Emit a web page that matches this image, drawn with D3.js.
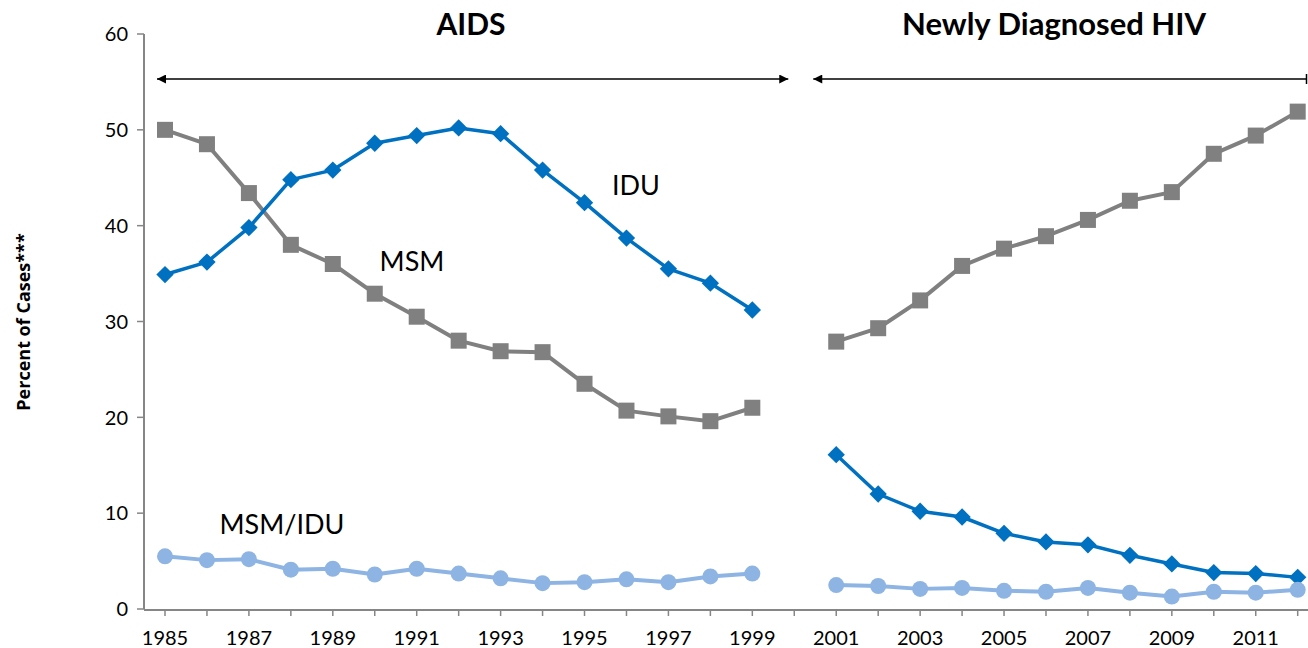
<!DOCTYPE html>
<html>
<head>
<meta charset="utf-8">
<script src="https://cdn.jsdelivr.net/npm/d3@7"></script>
<style>
  body { margin: 0; background: #fff; }
  svg { display: block; font-family: Lato, "Open Sans", sans-serif; }
</style>
</head>
<body>
<svg id="chart" width="1308" height="648"></svg>
<script>
const width = 1308;
const height = 648;

// Années (2000 = trou entre les deux périodes)
const years = d3.range(1985, 2013);
const tickLabels = years.filter(y => y % 2 === 1);
const yTicks = [0, 10, 20, 30, 40, 50, 60];

// Séries (null = pas de valeur)
const msm = [50.0, 48.5, 43.4, 38.0, 36.0, 32.9, 30.5, 28.0, 26.9, 26.8, 23.5, 20.7, 20.1, 19.6, 21.0,
  null, 27.9, 29.3, 32.2, 35.8, 37.6, 38.9, 40.6, 42.6, 43.5, 47.5, 49.4, 51.9];
const idu = [34.9, 36.2, 39.8, 44.8, 45.8, 48.6, 49.4, 50.2, 49.6, 45.8, 42.4, 38.7, 35.5, 34.0, 31.2,
  null, 16.1, 12.0, 10.2, 9.6, 7.9, 7.0, 6.7, 5.6, 4.7, 3.8, 3.7, 3.3];
const msmIdu = [5.5, 5.1, 5.2, 4.1, 4.2, 3.6, 4.2, 3.7, 3.2, 2.7, 2.8, 3.1, 2.8, 3.4, 3.7,
  null, 2.5, 2.4, 2.1, 2.2, 1.9, 1.8, 2.2, 1.7, 1.3, 1.8, 1.7, 2.0];

const svg = d3.select("#chart");

const x = d3.scalePoint().domain(years).range([165, 1297.7]);
const y = d3.scaleLinear().domain([0, 60]).range([609, 34]);

const axisColor = "#868686";

// Axe Y
svg.append("line")
  .attr("x1", 144).attr("x2", 144)
  .attr("y1", y(60)).attr("y2", y(0))
  .attr("stroke", axisColor).attr("stroke-width", 2);

svg.selectAll(".ytick")
  .data(yTicks)
  .enter().append("line")
  .attr("x1", 137).attr("x2", 144)
  .attr("y1", d => y(d)).attr("y2", d => y(d))
  .attr("stroke", axisColor).attr("stroke-width", 1.5);

svg.selectAll(".ylabel")
  .data(yTicks)
  .enter().append("text")
  .attr("x", 128)
  .attr("y", d => y(d))
  .attr("dy", "0.36em")
  .attr("text-anchor", "end")
  .attr("font-size", "20px")
  .text(d => d);

// Axe X
svg.append("line")
  .attr("x1", 144).attr("x2", width)
  .attr("y1", y(0) + 1).attr("y2", y(0) + 1)
  .attr("stroke", axisColor).attr("stroke-width", 2);

svg.selectAll(".xtick")
  .data(years)
  .enter().append("line")
  .attr("x1", d => x(d)).attr("x2", d => x(d))
  .attr("y1", y(0) + 1).attr("y2", y(0) + 7)
  .attr("stroke", axisColor).attr("stroke-width", 1.5);

svg.selectAll(".xlabel")
  .data(tickLabels)
  .enter().append("text")
  .attr("x", d => x(d))
  .attr("y", 645)
  .attr("text-anchor", "middle")
  .attr("font-size", "20px")
  .text(d => d);

// Titre de l'axe Y
svg.append("text")
  .attr("transform", "translate(30, 322) rotate(-90)")
  .attr("text-anchor", "middle")
  .style("font-family", "'Open Sans', sans-serif")
  .attr("font-size", "18px")
  .attr("font-weight", "bold")
  .text("Percent of Cases***");

// Séries
const line = d3.line()
  .defined(d => d.v !== null)
  .x(d => x(d.year))
  .y(d => y(d.v));

const toPoints = vals => years.map((yr, i) => ({ year: yr, v: vals[i] }));

function drawSeries(vals, color, lw) {
  svg.append("path")
    .datum(toPoints(vals))
    .attr("fill", "none")
    .attr("stroke", color)
    .attr("stroke-width", lw)
    .attr("stroke-linejoin", "round")
    .attr("d", line);
  return svg.append("g")
    .selectAll("path")
    .data(toPoints(vals).filter(d => d.v !== null))
    .enter();
}

drawSeries(msm, "#808080", 4)
  .append("rect")
  .attr("x", d => x(d.year) - 8)
  .attr("y", d => y(d.v) - 8)
  .attr("width", 16).attr("height", 16)
  .attr("fill", "#808080");

drawSeries(idu, "#0070C0", 3.5)
  .append("path")
  .attr("d", d3.symbol(d3.symbolSquare, 150))
  .attr("transform", d => `translate(${x(d.year)},${y(d.v)}) rotate(45)`)
  .attr("fill", "#0070C0");

drawSeries(msmIdu, "#8DB4E2", 4)
  .append("circle")
  .attr("cx", d => x(d.year))
  .attr("cy", d => y(d.v))
  .attr("r", 8)
  .attr("fill", "#8DB4E2");

// Étiquettes des séries
const seriesLabels = [
  { text: "IDU", x: 636, y: 195 },
  { text: "MSM", x: 412, y: 271 },
  { text: "MSM/IDU", x: 282, y: 534 }
];
svg.selectAll(".slabel")
  .data(seriesLabels)
  .enter().append("text")
  .attr("x", d => d.x)
  .attr("y", d => d.y)
  .attr("text-anchor", "middle")
  .attr("font-size", "27px")
  .text(d => d.text);

// Titres des périodes
svg.append("text")
  .attr("x", 471).attr("y", 35)
  .attr("text-anchor", "middle")
  .attr("font-size", "30px")
  .attr("font-weight", "bold")
  .text("AIDS");

svg.append("text")
  .attr("x", 1054).attr("y", 35)
  .attr("text-anchor", "middle")
  .attr("font-size", "31px")
  .attr("font-weight", "bold")
  .text("Newly Diagnosed HIV");

// Flèches
const defs = svg.append("defs");
defs.append("marker")
  .attr("id", "arrow")
  .attr("viewBox", "0 0 10 10")
  .attr("refX", 10).attr("refY", 5)
  .attr("markerWidth", 10).attr("markerHeight", 9)
  .attr("markerUnits", "userSpaceOnUse")
  .attr("orient", "auto-start-reverse")
  .append("path")
  .attr("d", "M0,0L10,5L0,10Z")
  .attr("fill", "#000");

const arrowY = 79;
svg.append("line")
  .attr("x1", x(1985) - 8).attr("x2", x(2000) - 6)
  .attr("y1", arrowY).attr("y2", arrowY)
  .attr("stroke", "#000").attr("stroke-width", 1.5)
  .attr("marker-start", "url(#arrow)")
  .attr("marker-end", "url(#arrow)");

svg.append("line")
  .attr("x1", x(2000) + 19).attr("x2", 1307)
  .attr("y1", arrowY).attr("y2", arrowY)
  .attr("stroke", "#000").attr("stroke-width", 1.5)
  .attr("marker-start", "url(#arrow)");

svg.append("line")
  .attr("x1", 1306.5).attr("x2", 1306.5)
  .attr("y1", arrowY - 5).attr("y2", arrowY + 5)
  .attr("stroke", "#000").attr("stroke-width", 1.5);
</script>
</body>
</html>
